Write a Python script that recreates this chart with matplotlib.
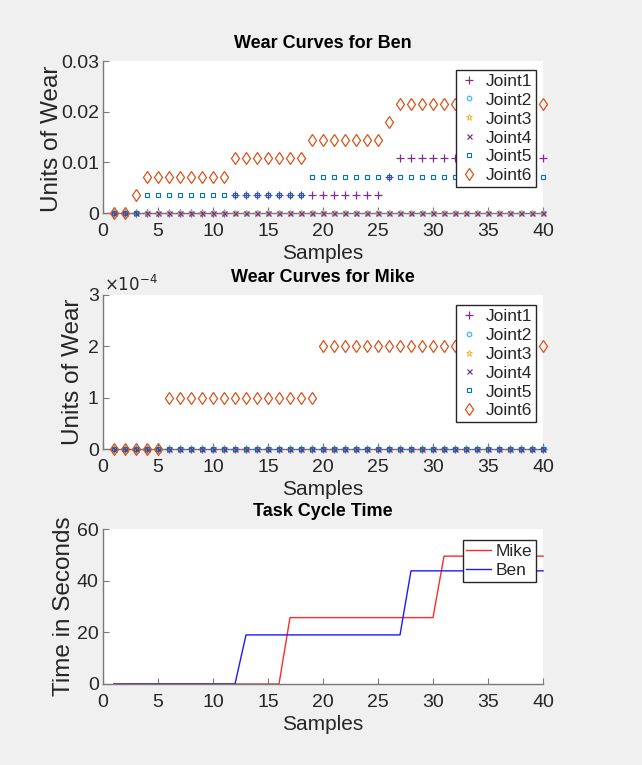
import matplotlib
matplotlib.use("Agg")
import matplotlib.pyplot as plt
from matplotlib.ticker import FuncFormatter

plt.rcParams['font.family'] = ['Liberation Sans', 'DejaVu Sans']

samples = list(range(1, 41))

# Ben wear data (units of wear)
ben_joint1 = [0.0]*11 + [0.0036]*14 + [0.0072] + [0.0108]*14
ben_joint2 = [0.0]*40
ben_joint3 = [0.0]*40
ben_joint4 = [0.0]*40
ben_joint5 = [0.0]*3 + [0.0036]*15 + [0.0072]*22
ben_joint6 = [0.0]*2 + [0.0036] + [0.0072]*8 + [0.0108]*7 + [0.0144]*7 + [0.018] + [0.0216]*14

# Mike wear data
mike_joint1 = [0.0]*40
mike_joint2 = [0.0]*40
mike_joint3 = [0.0]*40
mike_joint4 = [0.0]*40
mike_joint5 = [0.0]*40
mike_joint6 = [0.0]*5 + [1e-4]*14 + [2e-4]*21

# Task cycle times (seconds)
mike_time = [0.0]*16 + [25.7]*14 + [49.5]*10
ben_time = [0.0]*12 + [19.0]*15 + [43.8]*13

joint_labels = ['Joint1', 'Joint2', 'Joint3', 'Joint4', 'Joint5', 'Joint6']
x_ticks = [0, 5, 10, 15, 20, 25, 30, 35, 40]

styles = [
    dict(marker='+', color='#7E2F8E', ms=5.5, mew=0.9),
    dict(marker='o', color='#4DBEEE', ms=3.2, mew=1.0),
    dict(marker='*', color='#EDB120', ms=4.5, mew=0.6),
    dict(marker='x', color='#7E2F8E', ms=3.6, mew=0.9),
    dict(marker='s', color='#0072BD', ms=3.4, mew=0.8),
    dict(marker='d', color='#D95319', ms=6.2, mew=0.9),
]

BG = '#f0f0f0'
TXT = '#262626'
AX = '#7a7a7a'

fig = plt.figure(figsize=(6.42, 7.65), dpi=100, facecolor=BG)
W, H = 642, 765


def make_ax(top, bottom):
    ax = fig.add_axes([103 / W, 1 - bottom / H, 440 / W, (bottom - top) / H])
    ax.set_facecolor('white')
    for s in ['top', 'right']:
        ax.spines[s].set_visible(False)
    for s in ['left', 'bottom']:
        ax.spines[s].set_color(AX)
        ax.spines[s].set_linewidth(1.0)
    ax.tick_params(direction='in', length=4, width=0.8, color=AX,
                   labelsize=14, labelcolor=TXT)
    ax.tick_params(axis='x', pad=7)
    ax.tick_params(axis='y', pad=3)
    ax.set_xlim(0, 40)
    ax.set_xticks(x_ticks)
    return ax


def fmt0(v, p):
    if v == 0:
        return '0'
    return f'{v:g}'


def scatter_joints(ax, data):
    for d, st, lab in zip(data, styles, joint_labels):
        ax.plot(samples, d, linestyle='none', marker=st['marker'],
                color=st['color'], markersize=st['ms'],
                markeredgewidth=st['mew'], markerfacecolor='none',
                label=lab, clip_on=False, zorder=3)


def joint_legend(ax, y_anchor):
    leg = ax.legend(loc='upper right', bbox_to_anchor=(0.984, y_anchor),
                    borderaxespad=0, fontsize=12.5, frameon=True, fancybox=False,
                    edgecolor='#262626', labelspacing=0.22, handlelength=1.0,
                    handletextpad=0.5, borderpad=0.2, markerscale=1.0,
                    framealpha=1.0)
    leg.get_frame().set_linewidth(1.0)
    leg.set_zorder(5)
    for t in leg.get_texts():
        t.set_color(TXT)
    return leg


YL = 17.5
TL = 13

# ---- Ben ----
ax1 = make_ax(61, 213)
scatter_joints(ax1, [ben_joint1, ben_joint2, ben_joint3, ben_joint4, ben_joint5, ben_joint6])
ax1.set_ylim(0, 0.03)
ax1.set_yticks([0, 0.01, 0.02, 0.03])
ax1.yaxis.set_major_formatter(FuncFormatter(fmt0))
ax1.set_title('Wear Curves for Ben', fontsize=TL, fontweight='bold', color='black', pad=9)
ax1.set_xlabel('Samples', fontsize=15, color=TXT, labelpad=3)
ax1.set_ylabel('Units of Wear', fontsize=YL, color=TXT)
ax1.yaxis.set_label_coords(-0.091, 0.49)
joint_legend(ax1, 0.941)

# ---- Mike ----
ax2 = make_ax(295, 449)
scatter_joints(ax2, [mike_joint1, mike_joint2, mike_joint3, mike_joint4, mike_joint5, mike_joint6])
ax2.set_ylim(0, 3e-4)
ax2.set_yticks([0, 1e-4, 2e-4, 3e-4])
ax2.yaxis.set_major_formatter(FuncFormatter(lambda v, p: f'{v * 1e4:g}'))
ax2.text(0.003, 1.005, r'$\times10^{-4}$', transform=ax2.transAxes, fontsize=12,
         color=TXT, ha='left', va='bottom', math_fontfamily='dejavusans')
ax2.set_title('Wear Curves for Mike', fontsize=TL, fontweight='bold', color='black', pad=9)
ax2.set_xlabel('Samples', fontsize=15, color=TXT, labelpad=3)
ax2.set_ylabel('Units of Wear', fontsize=YL, color=TXT)
ax2.yaxis.set_label_coords(-0.043, 0.5)
joint_legend(ax2, 0.935)

# ---- Task cycle time ----
ax3 = make_ax(529, 684)
ax3.plot(samples, mike_time, color='#ff2a2a', lw=1.0, label='Mike', clip_on=False)
ax3.plot(samples, ben_time, color='#1a1aff', lw=1.0, label='Ben', clip_on=False)
ax3.set_ylim(0, 60)
ax3.set_yticks([0, 20, 40, 60])
ax3.set_title('Task Cycle Time', fontsize=TL, fontweight='bold', color='black', pad=9)
ax3.set_xlabel('Samples', fontsize=15, color=TXT, labelpad=3)
ax3.set_ylabel('Time in Seconds', fontsize=YL, color=TXT)
ax3.yaxis.set_label_coords(-0.064, 0.5)
leg3 = ax3.legend(loc='upper right', bbox_to_anchor=(0.984, 0.929), borderaxespad=0,
                  fontsize=12.5, frameon=True, fancybox=False, edgecolor='#262626',
                  labelspacing=0.25, handlelength=1.4, handletextpad=0.3, borderpad=0.2,
                  framealpha=1.0)
leg3.get_frame().set_linewidth(1.0)
for t in leg3.get_texts():
    t.set_color(TXT)

fig.savefig('out.png', dpi=100, facecolor=BG)
